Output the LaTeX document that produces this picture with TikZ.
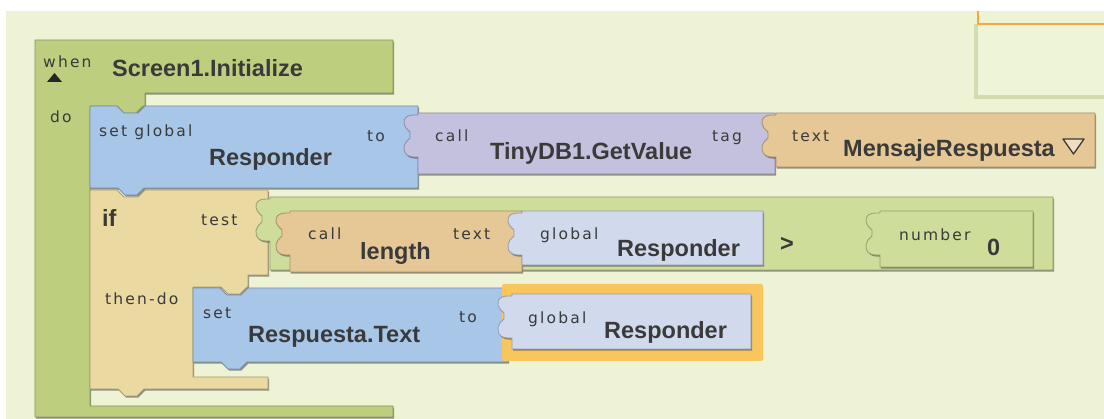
\documentclass[tikz,border=0pt]{standalone}
\usepackage{fontspec}
\setmainfont{Liberation Sans}
\newfontfamily\lblfont[LetterSpace=14]{DejaVu Sans}
\usetikzlibrary{shadows}

\definecolor{bggreen}{HTML}{EDF3D4}
\definecolor{whengreen}{HTML}{BDCF7F}
\definecolor{cmpgreen}{HTML}{CEDD99}
\definecolor{setblue}{HTML}{A7C6E8}
\definecolor{callpurple}{HTML}{C4C1DE}
\definecolor{texttan}{HTML}{E6C796}
\definecolor{iftan}{HTML}{EAD9A1}
\definecolor{globlav}{HTML}{D1D9EC}
\definecolor{higold}{HTML}{F8C65C}
\definecolor{txtgray}{HTML}{3A3A3A}
\definecolor{boxedge}{HTML}{D3DBAF}
\definecolor{selorange}{HTML}{F7A838}

\tikzset{
  blk/.style={fill=#1, draw=#1!72!black, line width=0.8pt, line join=round,
    general shadow={shadow xshift=1.2pt, shadow yshift=-1.6pt, fill=black!75, opacity=0.55}},
  lbl/.style={anchor=base west, inner sep=0pt, text=txtgray,
    font=\lblfont\fontsize{15.5}{16}\selectfont},
  ttl/.style={anchor=base west, inner sep=0pt, text=txtgray,
    font=\bfseries\fontsize{23.5}{24}\selectfont}
}

% statement block: left, top, right, bottom, colour
\newcommand\stmtblock[5]{%
  \path[blk=#5] (#1,#2) -- (#1+27,#2) -- (#1+34,#2+7) -- (#1+48,#2+7) -- (#1+55,#2)
    -- (#3,#2) -- (#3,#4) -- (#1+54,#4) -- (#1+47,#4+7) -- (#1+35,#4+7) -- (#1+28,#4)
    -- (#1,#4) -- cycle;}

% value block with plug on the left: left, top, right, bottom, colour
\newcommand\valblock[5]{%
  \path[blk=#5] (#1,#2) -- (#3,#2) -- (#3,#4) -- (#1,#4) -- (#1,#2+44) -- (#1-4,#2+44)
    .. controls (#1-15,#2+44) and (#1-16,#2+34) .. (#1-12,#2+29) -- (#1-8,#2+25)
    -- (#1-8,#2+19) -- (#1-12,#2+15)
    .. controls (#1-16,#2+10) and (#1-15,#2+2) .. (#1-4,#2+2) -- (#1,#2+2) -- cycle;}

\begin{document}
\begin{tikzpicture}[x=1pt,y=-1pt]
\useasboundingbox (0,0) rectangle (1104,419);
\fill[white] (0,0) rectangle (1104,419);
\fill[bggreen] (6,11) rectangle (1104,419);

% corner of another block, top right
\fill[bggreen!92!white] (978,24) rectangle (1104,97);
\draw[boxedge, line width=3.5pt] (976,24) -- (976,97) -- (1104,97);
\draw[selorange, line width=2pt] (978,11) -- (978,24) -- (1104,24);

% when Screen1.Initialize
\path[blk=whengreen] (35,40) -- (393,40) -- (393,93) -- (145,93) -- (145,106)
  -- (143,106) -- (136,113) -- (124,113) -- (117,106) -- (90,106) -- (90,406)
  -- (393,406) -- (393,417) -- (35,417) -- cycle;
\fill[black!85] (47,82) -- (54.5,73) -- (62,82) -- cycle;
\node[lbl] (when) at (43,68) {when};
\node[ttl] (scr) at (112,77) {Screen1.Initialize};
\node[lbl] (do) at (50,123) {do};

% set global Responder to
\stmtblock{90}{106}{418}{188}{setblue}
\node[lbl] (setg) at (99,137) {set global};
\node[ttl] (resp1) at (209,166) {Responder};
\node[lbl] (to1) at (367,142) {to};

% call TinyDB1.GetValue
\valblock{418}{113}{775}{174}{callpurple}
\node[lbl] (call1) at (435,142) {call};
\node[ttl] (getv) at (490,160) {TinyDB1.GetValue};
\node[lbl] (tag) at (712,142) {tag};

% text MensajeRespuesta
\valblock{776}{113}{1095}{167}{texttan}
\node[lbl] (text1) at (792,142) {text};
\node[ttl] (msg) at (843,157) {MensajeRespuesta};
\draw[fill=texttan!60!white, draw=txtgray, line width=1.3pt, line join=round]
  (1063,139) -- (1084,139) -- (1073.5,154) -- cycle;

% if / then-do
\path[blk=iftan] (90,190) -- (117,190) -- (124,197) -- (138,197) -- (145,190)
  -- (268,190) -- (268,275) -- (248,275) -- (248,287) -- (247,287) -- (240,294)
  -- (228,294) -- (221,287) -- (193,287) -- (193,377) -- (268,377) -- (268,389)
  -- (144,389) -- (137,396) -- (125,396) -- (118,389) -- (90,389) -- cycle;
\node[ttl] (if) at (102,227) {if};
\node[lbl] (test) at (201,226) {test};
\node[lbl] (then) at (105,305) {then-do};

% compare >
\valblock{270}{197}{1053}{270}{cmpgreen}
\node[ttl] (gt) at (780,252) {>};

% call length
\valblock{290}{211}{522}{272}{texttan}
\node[lbl] (call2) at (308,240) {call};
\node[ttl] (len) at (360,260) {length};
\node[lbl] (text2) at (453,240) {text};

% global Responder
\valblock{522}{211}{763}{265}{globlav}
\node[lbl] (glob1) at (540,240) {global};
\node[ttl] (resp2) at (617,257) {Responder};

% number 0
\valblock{880}{211}{1033}{267}{cmpgreen}
\node[lbl] (num) at (899,241) {number};
\node[ttl] (zero) at (987,256) {0};

% set Respuesta.Text to
\stmtblock{193}{288}{508}{362}{setblue}
\node[lbl] (set2) at (203,319) {set};
\node[ttl] (rtext) at (248,343) {Respuesta.Text};
\node[lbl] (to2) at (459,323) {to};

% selected global Responder
\fill[higold, rounded corners=2pt] (502,284) rectangle (763,361);
\valblock{512}{294}{751}{349}{globlav}
\node[lbl] (glob2) at (528,324) {global};
\node[ttl] (resp3) at (604,339) {Responder};
\end{tikzpicture}
\end{document}
